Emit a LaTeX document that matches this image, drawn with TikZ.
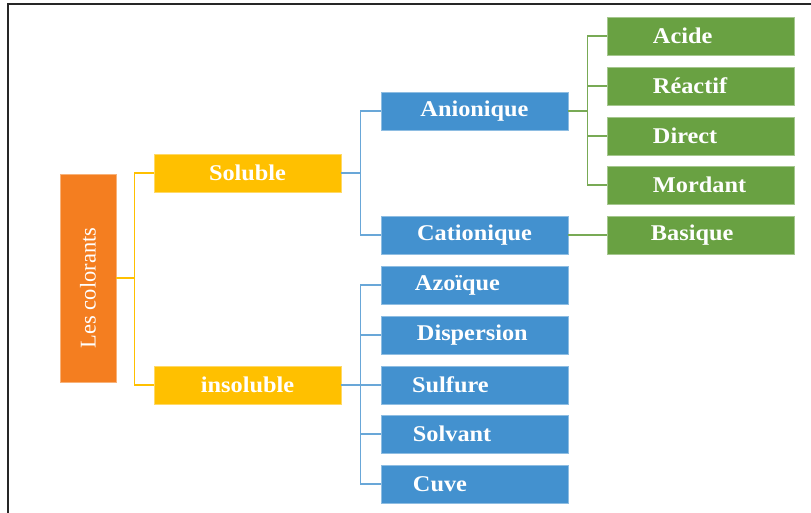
\documentclass[tikz,border=0pt]{standalone}
\usepackage{fontspec}
\setmainfont{Liberation Serif}
\newfontfamily\boxfont{Liberation Serif}[FakeStretch=1.08]
\definecolor{corange}{HTML}{F47E20}
\definecolor{cyellow}{HTML}{FFC000}
\definecolor{cblue}{HTML}{4391CF}
\definecolor{cgreen}{HTML}{69A142}
\tikzset{
  >=latex,
  box/.style={minimum width=4.675cm,minimum height=0.95cm,inner sep=0pt,
    text=white,font=\boxfont\bfseries\fontsize{16}{18}\selectfont},
  yellowbox/.style={box,fill=cyellow,draw=cyellow!60!white},
  bluebox/.style={box,fill=cblue,draw=cblue!60!white},
  greenbox/.style={box,fill=cgreen,draw=cgreen!60!white},
  indent/.style={text width=4.675cm,align=left,execute at begin node={\hspace*{#1}}},
  yline/.style={cyellow,line width=1pt},
  bline/.style={cblue!80!white,line width=1pt},
  gline/.style={cgreen!90!white,line width=1pt}
}

\begin{document}
\begin{tikzpicture}[x=0.025cm,y=-0.025cm]
      \useasboundingbox (0,0) rectangle (811,513);
      \draw[line width=1.2pt,black!85] (8,513)--(8,4)--(811,4);
      % root and first level
      \node[fill=corange,draw=corange!60!white,rotate=90,minimum width=5.2cm,
        minimum height=1.4cm,inner sep=0pt,text=white,font=\fontsize{16}{18}\selectfont]
        (root) at (88,278) {Les colorants\hspace{0.5cm}\mbox{}};
      \node[yellowbox] (sol) at (247.5,173) {Soluble};
      \node[yellowbox] (insol) at (247.5,385) {insoluble};
      \draw[yline] (root.south)--++(18,0) |- (sol.west);
      \draw[yline] (root.south)--++(18,0) |- (insol.west);
      % soluble
      \node[bluebox] (anion) at (474.5,111) {Anionique};
      \node[bluebox] (cation) at (474.5,235) {Cationique};
      \foreach \n in {anion,cation}
      \draw[bline] (sol.east)--++(19,0) |- (\n.west);
      \foreach \n/\t/\y in {acide/Acide/36,reactif/Réactif/86,direct/Direct/136,mordant/Mordant/185}{
        \node[greenbox,indent=1.15cm] (\n) at (700.5,\y) {\t};
        \draw[gline] (anion.east)--++(19,0) |- (\n.west);
      }
      \node[greenbox,indent=1.1cm] (basique) at (700.5,235) {Basique};
      \draw[gline] (cation)--(basique);
      % insoluble
      \foreach \n/\t/\y/\i in {azo/Azoïque/285/0.85cm,disp/Dispersion/335/0.9cm,
        sulf/Sulfure/385/0.78cm,solv/Solvant/434/0.8cm,cuve/Cuve/484/0.8cm}{
        \node[bluebox,indent=\i] (\n) at (474.5,\y) {\t};
        \draw[bline] (insol.east)--++(19,0) |- (\n.west);
      }
\end{tikzpicture}
\end{document}
